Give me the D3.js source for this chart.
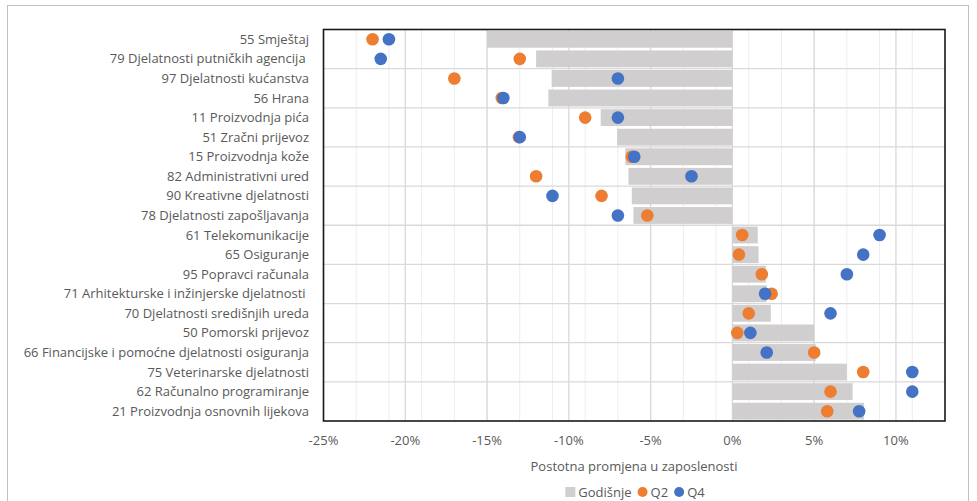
<!DOCTYPE html>
<html>
<head>
<meta charset="utf-8">
<script src="https://cdn.jsdelivr.net/npm/d3@7"></script>
<style>
  body { margin: 0; background: #fff; }
  svg text { font-family: "Open Sans", "Noto Sans", sans-serif; fill: #595959; white-space: pre; }
</style>
</head>
<body>
<div id="chart"></div>
<script>
// categories top to bottom
const categories = [
  "55 Smještaj",
  "79 Djelatnosti putničkih agencija ",
  "97 Djelatnosti kućanstva",
  "56 Hrana",
  "11 Proizvodnja pića",
  "51 Zračni prijevoz",
  "15 Proizvodnja kože",
  "82 Administrativni ured",
  "90 Kreativne djelatnosti",
  "78 Djelatnosti zapošljavanja",
  "61 Telekomunikacije",
  "65 Osiguranje",
  "95 Popravci računala",
  "71 Arhitekturske i inžinjerske djelatnosti ",
  "70 Djelatnosti središnjih ureda",
  "50 Pomorski prijevoz",
  "66 Financijske i pomoćne djelatnosti osiguranja",
  "75 Veterinarske djelatnosti",
  "62 Računalno programiranje",
  "21 Proizvodnja osnovnih lijekova"
];
const annual = [-15, -12, -11.05, -11.25, -8.05, -7.05, -6.55, -6.35, -6.15, -6.05,
                1.55, 1.6, 2.05, 2.1, 2.35, 5.0, 5.1, 7.0, 7.35, 8.05];
const q2 = [-22, -13, -17, -14.1, -9, -13.05, -6.15, -12, -8, -5.2,
            0.6, 0.4, 1.8, 2.4, 1.0, 0.3, 5.0, 8.0, 6.0, 5.8];
const q4 = [-21, -21.5, -7, -14, -7, -13, -6, -2.5, -11, -7,
            9, 8, 7, 2, 6, 1.1, 2.1, 11, 11, 7.75];
const xTicks = [-25, -20, -15, -10, -5, 0, 5, 10];
const minorTicks = d3.range(-25, 14, 2);
const legendItems = [
  { name: "Godišnje", shape: "rect", color: "#D0CECE" },
  { name: "Q2", shape: "circle", color: "#ED7D31" },
  { name: "Q4", shape: "circle", color: "#4472C4" }
];

const W = 977, H = 501;
const plot = { left: 323.5, top: 29.5, right: 945, bottom: 421 };
const fontSize = 13;

const svg = d3.select("#chart").append("svg")
  .attr("width", W).attr("height", H);

// outer chart border
svg.append("rect")
  .attr("x", 7.5).attr("y", 5.5).attr("width", 961).attr("height", 520)
  .attr("fill", "none").attr("stroke", "#bfbfbf").attr("stroke-width", 1);

const x = d3.scaleLinear().domain([-25, 13]).range([plot.left, plot.right]);
const y = d3.scaleBand().domain(categories).range([plot.top, plot.bottom]).paddingInner(0.14).paddingOuter(0.07);
const step = y.step();

// minor vertical gridlines
svg.append("g").selectAll("line").data(minorTicks).join("line")
  .attr("x1", d => x(d)).attr("x2", d => x(d))
  .attr("y1", plot.top).attr("y2", plot.bottom)
  .attr("stroke", "#EDEDED").attr("stroke-width", 1);

// major vertical gridlines
svg.append("g").selectAll("line").data(xTicks).join("line")
  .attr("x1", d => x(d)).attr("x2", d => x(d))
  .attr("y1", plot.top).attr("y2", plot.bottom)
  .attr("stroke", "#D9D9D9").attr("stroke-width", 1.3);

// horizontal gridlines every two categories
const hLines = d3.range(2, categories.length, 2);
svg.append("g").selectAll("line").data(hLines).join("line")
  .attr("x1", plot.left).attr("x2", plot.right)
  .attr("y1", d => plot.top + d * step).attr("y2", d => plot.top + d * step)
  .attr("stroke", "#D9D9D9").attr("stroke-width", 1.3);

// bars
svg.append("g").selectAll("rect").data(categories).join("rect")
  .attr("x", (d, i) => x(Math.min(0, annual[i])))
  .attr("width", (d, i) => Math.abs(x(annual[i]) - x(0)))
  .attr("y", d => y(d))
  .attr("height", y.bandwidth())
  .attr("fill", "#D0CECE");

// dots
const r = 6.3;
svg.append("g").selectAll("circle").data(categories).join("circle")
  .attr("cx", (d, i) => x(q2[i]))
  .attr("cy", d => y(d) + y.bandwidth() / 2)
  .attr("r", r).attr("fill", "#ED7D31");
svg.append("g").selectAll("circle").data(categories).join("circle")
  .attr("cx", (d, i) => x(q4[i]))
  .attr("cy", d => y(d) + y.bandwidth() / 2)
  .attr("r", r).attr("fill", "#4472C4");

// plot frame
svg.append("rect")
  .attr("x", plot.left).attr("y", plot.top)
  .attr("width", plot.right - plot.left).attr("height", plot.bottom - plot.top)
  .attr("fill", "none").attr("stroke", "#1a1a1a").attr("stroke-width", 1.6);

// category labels
svg.append("g").selectAll("text").data(categories).join("text")
  .attr("x", 309)
  .attr("y", d => y(d) + y.bandwidth() / 2)
  .attr("dy", "0.35em")
  .attr("text-anchor", "end")
  .attr("font-size", fontSize)
  .text(d => d);

// x tick labels
svg.append("g").selectAll("text").data(xTicks).join("text")
  .attr("x", d => x(d))
  .attr("y", 445)
  .attr("text-anchor", "middle")
  .attr("font-size", fontSize)
  .text(d => d + "%");

// axis title
svg.append("text")
  .attr("x", 634).attr("y", 471)
  .attr("text-anchor", "middle")
  .attr("font-size", fontSize)
  .text("Postotna promjena u zaposlenosti");

// legend, centred under the plot
const legend = svg.append("g");
let lx = 0;
legendItems.forEach(item => {
  if (item.shape === "rect") {
    legend.append("rect").attr("x", lx).attr("y", -5).attr("width", 10).attr("height", 10).attr("fill", item.color);
  } else {
    legend.append("circle").attr("cx", lx + 5).attr("cy", 0).attr("r", 5).attr("fill", item.color);
  }
  const t = legend.append("text").attr("x", lx + 13).attr("y", 0).attr("dy", "0.35em")
    .attr("font-size", fontSize).text(item.name);
  lx += 13 + t.node().getComputedTextLength() + 6;
});
legend.attr("transform", `translate(${635 - (lx - 6) / 2},492)`);
</script>
</body>
</html>
